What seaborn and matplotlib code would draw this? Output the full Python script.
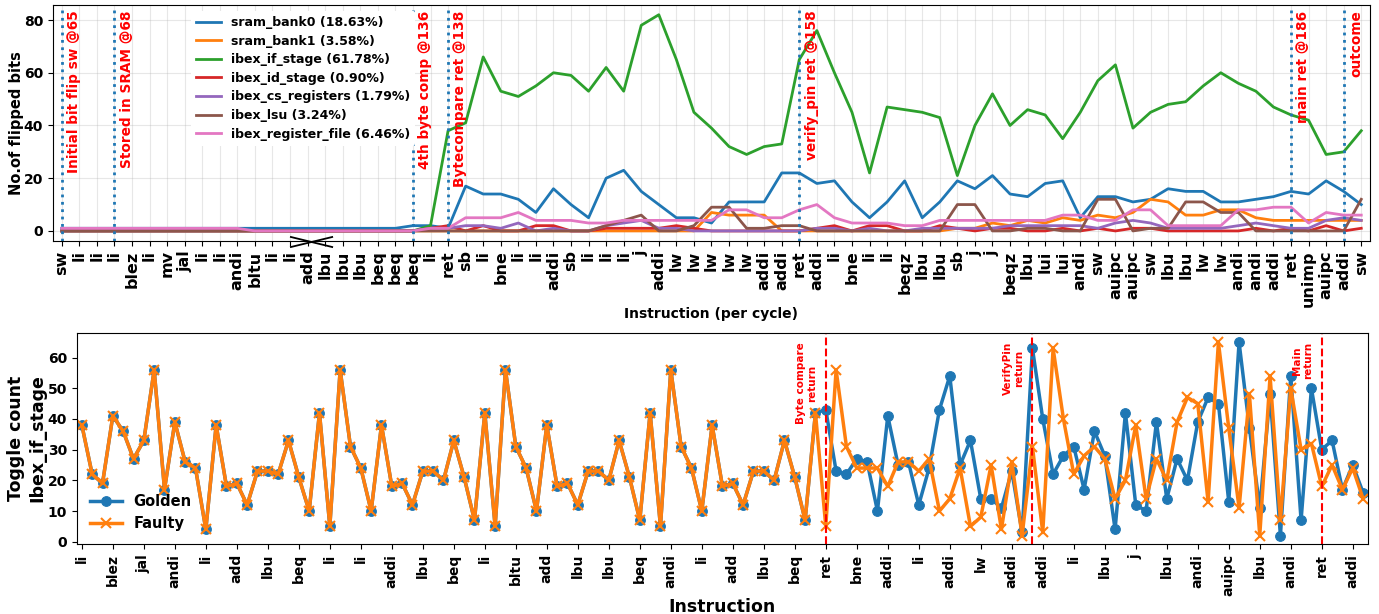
import numpy as np
import matplotlib
matplotlib.use('Agg')
import matplotlib.pyplot as plt
import seaborn as sns

plt.rcParams['font.family'] = ['DejaVu Sans']
plt.rcParams['font.weight'] = 'bold'
plt.rcParams['axes.labelweight'] = 'bold'

# ---- top panel: flipped bits per cycle ----
top_instr = ['sw', 'li', 'li', 'li', 'blez', 'li', 'mv', 'jal', 'li', 'li', 'andi', 'bltu', 'li', 'li',
             'add', 'lbu', 'lbu', 'lbu', 'beq', 'beq', 'beq', 'li', 'ret', 'sb', 'li', 'bne', 'li', 'li',
             'addi', 'sb', 'li', 'li', 'li', 'j', 'addi', 'lw', 'lw', 'lw', 'lw', 'lw', 'addi', 'addi',
             'ret', 'addi', 'li', 'bne', 'li', 'li', 'beqz', 'lbu', 'lbu', 'sb', 'j', 'j', 'beqz', 'lbu',
             'lui', 'lui', 'andi', 'sw', 'auipc', 'auipc', 'sw', 'lbu', 'lbu', 'lw', 'lw', 'andi', 'andi',
             'addi', 'ret', 'unimp', 'auipc', 'addi', 'sw']

sram_bank0 = [1]*20 + [2, 2, 1, 17, 14, 14, 12, 7, 16, 10, 5, 20, 23, 15, 10, 5, 5, 3, 11, 11, 11, 22, 22,
                       18, 19, 11, 5, 11, 19, 5, 11, 19, 16, 21, 14, 13, 18, 19, 5, 13, 13, 11, 12, 16, 15,
                       15, 11, 11, 12, 13, 15, 14, 19, 15, 10]
sram_bank1 = [0]*37 + [7, 6, 6, 6, 0, 0, 0, 0, 0, 0, 0, 0, 0, 0, 1, 1, 3, 2, 4, 3, 5, 4, 6, 5, 7, 12, 11,
                       6, 6, 8, 8, 5, 4, 4, 4, 4, 4, 4]
ibex_if_stage = [0]*21 + [2, 38, 41, 66, 53, 51, 55, 60, 59, 53, 62, 53, 78, 82, 65, 45, 39, 32, 29, 32, 33,
                          65, 76, 60, 45, 22, 47, 46, 45, 43, 21, 40, 52, 40, 46, 44, 35, 45, 57, 63, 39, 45,
                          48, 49, 55, 60, 56, 53, 47, 44, 42, 29, 30, 38]
ibex_id_stage = [0]*21 + [1, 2, 0, 2, 0, 0, 2, 2, 0, 0, 1, 1, 1, 1, 2, 1, 0, 0, 0, 0, 0, 0, 1, 2, 0, 2, 2,
                          0, 0, 2, 1, 0, 1, 1, 0, 0, 1, 0, 1, 0, 1, 1, 0, 0, 0, 0, 0, 1, 0, 1, 0, 2, 0, 1]
ibex_cs_registers = [0]*21 + [1, 1, 2, 2, 1, 3, 0, 1, 0, 0, 2, 3, 4, 1, 1, 0, 0, 0, 0, 0, 0, 0, 1, 1, 0, 1,
                              0, 0, 1, 1, 1, 1, 1, 2, 2, 2, 2, 2, 1, 3, 4, 3, 1, 1, 1, 1, 2, 3, 2, 1, 1, 4,
                              5, 4]
ibex_lsu = [0]*31 + [2, 4, 6, 0, 0, 2, 9, 9, 1, 1, 2, 2, 0, 0, 0, 0, 0, 0, 0, 0, 10, 10, 0, 0, 1, 1, 0, 0,
                     12, 12, 0, 1, 1, 11, 11, 7, 7, 0, 0, 0, 0, 0, 0, 12]
ibex_register_file = [1]*11 + [0]*10 + [1, 1, 5, 5, 5, 7, 4, 4, 4, 3, 3, 4, 4, 4, 4, 4, 4, 8, 8, 5, 5, 8,
                                        10, 5, 3, 3, 3, 2, 2, 4, 4, 4, 4, 4, 4, 4, 6, 6, 4, 4, 8, 8, 2, 2,
                                        2, 2, 8, 8, 9, 9, 3, 7, 6, 6]

top_series = [('sram_bank0 (18.63%)', sram_bank0),
              ('sram_bank1 (3.58%)', sram_bank1),
              ('ibex_if_stage (61.78%)', ibex_if_stage),
              ('ibex_id_stage (0.90%)', ibex_id_stage),
              ('ibex_cs_registers (1.79%)', ibex_cs_registers),
              ('ibex_lsu (3.24%)', ibex_lsu),
              ('ibex_register_file (6.46%)', ibex_register_file)]

events = [(0, 'Initial bit flip sw @65'), (3, 'Stored in SRAM @68'), (20, '4th byte comp @136'),
          (22, 'Bytecompare ret @138'), (42, 'verify_pin ret @158'), (70, 'main ret @186'),
          (73, 'outcome')]

# ---- bottom panel: toggle count of ibex_if_stage ----
bottom_ticks = ['li', 'blez', 'jal', 'andi', 'li', 'add', 'lbu', 'beq', 'li', 'li', 'addi', 'lbu', 'beq',
                'li', 'bltu', 'add', 'lbu', 'lbu', 'beq', 'andi', 'li', 'add', 'lbu', 'beq', 'ret', 'bne',
                'addi', 'li', 'addi', 'lw', 'addi', 'addi', 'li', 'lbu', 'j', 'lbu', 'andi', 'auipc',
                'lbu', 'andi', 'ret', 'addi']

common = [38, 22, 19, 41, 36, 27, 33, 56, 17, 39, 26, 24, 4, 38, 18, 19, 12, 23, 23, 22, 33, 21, 10, 42,
          5, 56, 31, 24, 10, 38, 18, 19, 12, 23, 23, 20, 33, 21, 7, 42, 5, 56, 31, 24, 10, 38, 18, 19,
          12, 23, 23, 20, 33, 21, 7, 42, 5, 56, 31, 24, 10, 38, 18, 19, 12, 23, 23, 20, 33, 21, 7]
golden = common + [42, 43, 23, 22, 27, 26, 10, 41, 25, 26, 12, 24, 43, 54, 25, 33, 14, 14, 11, 23, 3, 63,
                   40, 22, 28, 31, 17, 36, 28, 4, 42, 12, 10, 39, 14, 27, 20, 39, 47, 45, 13, 65, 37, 11,
                   48, 2, 54, 7, 50, 30, 33, 17, 25, 16]
faulty = common + [42, 5, 56, 31, 24, 24, 24, 18, 26, 26, 23, 27, 10, 14, 24, 5, 8, 25, 4, 26, 2, 31, 3,
                   63, 40, 22, 28, 31, 27, 14, 20, 38, 14, 27, 20, 39, 47, 45, 13, 65, 37, 11, 48, 2, 54,
                   7, 50, 30, 32, 18, 25, 17, 24, 14]

returns = [(72, 'Byte compare\nreturn'), (92, 'VerifyPin\nreturn'), (120, 'Main\nreturn')]

fig = plt.figure(figsize=(13.79, 6.14), dpi=100)
ax1 = fig.add_axes([0.0384, 0.608, 0.9551, 0.3843])
ax2 = fig.add_axes([0.0556, 0.1135, 0.9366, 0.3446])

x_top = np.arange(len(top_instr))
for name, vals in top_series:
    sns.lineplot(x=x_top, y=vals, ax=ax1, label=name, linewidth=2)

for pos, txt in events:
    ax1.axvline(pos, color='tab:blue', linestyle=':', linewidth=2)
    ax1.text(pos + 0.3, 0.975, txt, transform=ax1.get_xaxis_transform(), rotation=90,
             ha='left', va='top', color='red', fontsize=9.8, fontweight='bold', zorder=5)

# axis break marker
ax1.plot([13.05, 15.4], [-2.3, -6.1], color='black', linewidth=1.3, clip_on=False)
ax1.plot([13.05, 15.4], [-6.1, -2.3], color='black', linewidth=1.3, clip_on=False)

ax1.set_xlim(-0.5, len(top_instr) - 0.5)
ax1.set_ylim(-3.7, 85.8)
ax1.set_xticks(x_top)
ax1.set_xticklabels(top_instr, rotation=90, fontsize=11.5)
ax1.set_yticks([0, 20, 40, 60, 80])
ax1.tick_params(axis='y', labelsize=10)
ax1.grid(True, alpha=0.3)
ax1.set_xlabel('Instruction (per cycle)', fontsize=10, labelpad=0)
ax1.set_ylabel('No.of flipped bits', fontsize=10.5, labelpad=0)
ax1.legend(loc='upper left', bbox_to_anchor=(0.1, 1.0), fontsize=9, frameon=True,
           framealpha=1, edgecolor='none', handlelength=2.0, labelspacing=0.45)

x_bot = np.arange(len(golden))
sns.lineplot(x=x_bot, y=golden, ax=ax2, color='tab:blue', marker='o', markersize=7,
             markeredgecolor='tab:blue', linewidth=2.5, label='Golden')
sns.lineplot(x=x_bot, y=faulty, ax=ax2, color='tab:orange', marker='x', markersize=7,
             markeredgecolor='tab:orange', markeredgewidth=1.5, linewidth=2.5, label='Faulty')

for pos, txt in returns:
    ax2.axvline(pos, color='red', linestyle='--', linewidth=1.5)
    ax2.text(pos - 0.8, 0.955, txt, transform=ax2.get_xaxis_transform(), rotation=90,
             ha='right', va='top', color='red', fontsize=7.5, fontweight='bold',
             multialignment='center')

ax2.set_xlim(-0.5, len(golden) - 0.5)
ax2.set_ylim(-0.85, 68.1)
ax2.set_xticks(x_bot[::3])
ax2.set_xticklabels(bottom_ticks, rotation=90, fontsize=10)
ax2.set_yticks(range(0, 61, 10))
ax2.tick_params(axis='y', labelsize=10)
ax2.set_xlabel('Instruction', fontsize=12.5, labelpad=1)
ax2.set_ylabel('Toggle count\nIbex_if_stage', fontsize=12.5, labelpad=1)
ax2.legend(loc='lower left', fontsize=10.5, frameon=False, handlelength=2.2)

fig.savefig('out.png', dpi=100)
